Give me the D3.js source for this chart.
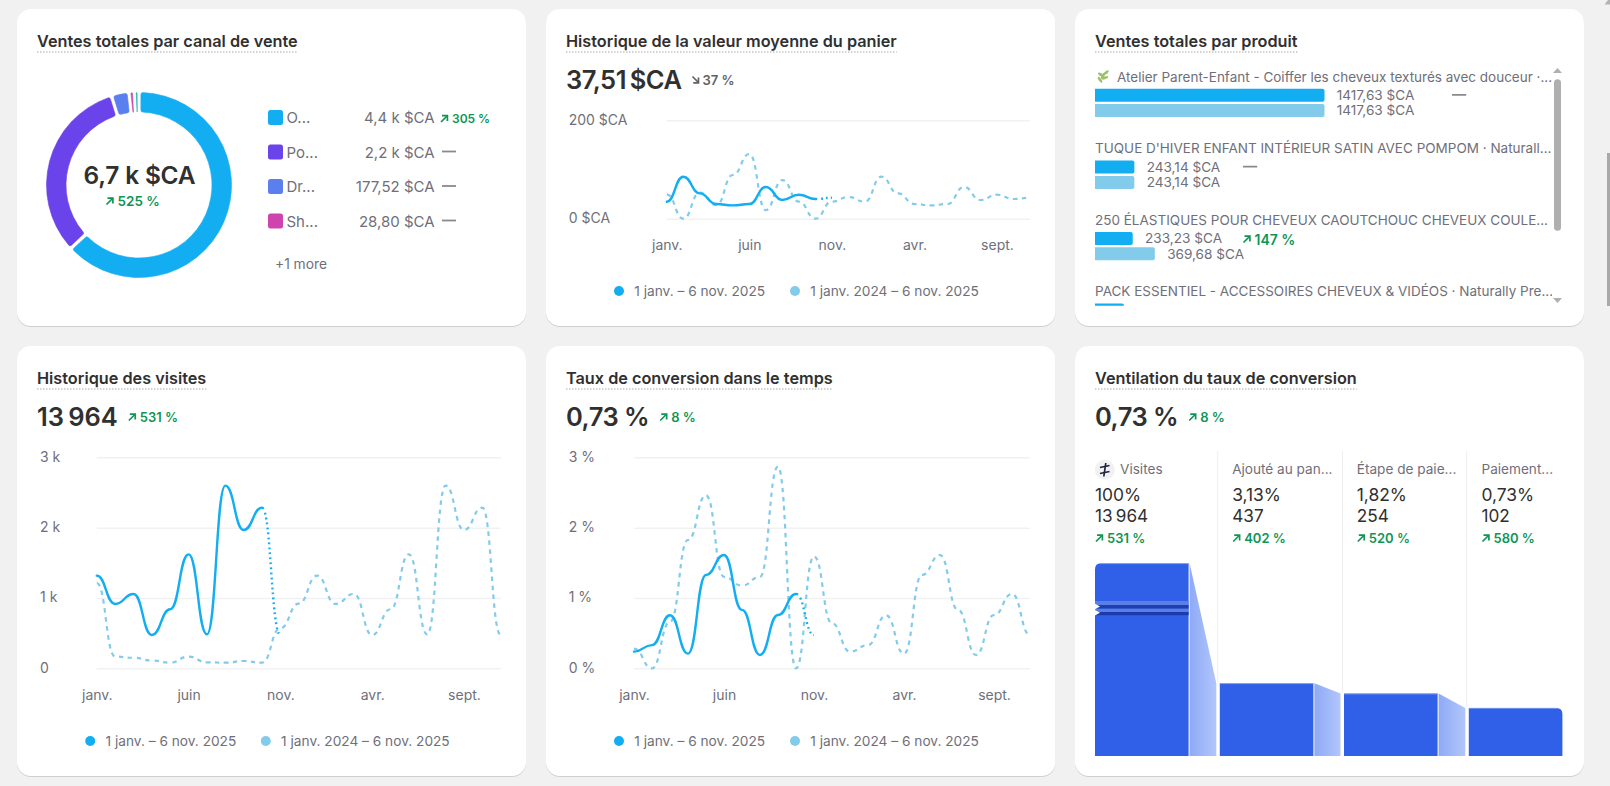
<!DOCTYPE html>
<html lang="fr">
<head>
<meta charset="utf-8">
<title>Tableau de bord des ventes</title>
<script src="https://cdnjs.cloudflare.com/ajax/libs/d3/7.9.0/d3.min.js"></script>
<style>
  html, body { margin: 0; padding: 0; background: #f1f1f1; overflow: hidden; }
  svg { display: block; font-family: Inter, "Noto Sans", sans-serif; }
</style>
</head>
<body>
<svg id="board" width="1610" height="786"></svg>
<script>
// ---- Sales channels
const channelNames = ["O...", "Po...", "Dr...", "Sh...", "Autre"];
const channelValues = [4352, 2200, 177.52, 28.8, 20];
const channelLabels = ["4,4 k $CA", "2,2 k $CA", "177,52 $CA", "28,80 $CA"];
const channelTrends = ["305 %", null, null, null];

// ---- Monthly axis shared by the line charts
const monthTicks = [0, 5, 10, 15, 20];
const monthTickLabels = ["janv.", "juin", "nov.", "avr.", "sept."];
const periodLabels = ["1 janv. – 6 nov. 2025", "1 janv. 2024 – 6 nov. 2025"];

// ---- Average basket value ($CA)
const basketCurrent = [34.6, 85.4, 51.5, 29.8, 27, 29.8, 64.4, 38, 48.8, 40, 42.7];
const basketPrevious = [49.5, 0, 53, 27.8, 88.8, 131.5, 17.6, 78.6, 34.6, 0, 34.6, 44, 34.6, 85.4, 51.5, 29.8, 27, 29.8, 64.4, 38, 48.8, 40, 42.7];
const basketTicks = [0, 200];

// ---- Visits (thousands)
const visitsCurrent = [1.317, 0.915, 1.057, 0.474, 0.84, 1.62, 0.483, 2.597, 1.967, 2.284, 0.474];
const visitsPrevious = [1.21, 0.166, 0.15, 0.11, 0.08, 0.166, 0.085, 0.08, 0.104, 0.08, 0.57, 0.92, 1.317, 0.915, 1.057, 0.474, 0.84, 1.62, 0.483, 2.597, 1.967, 2.284, 0.474];
const visitsTicks = [0, 1, 2, 3];

// ---- Conversion rate (%)
const conversionCurrent = [0.237, 0.33, 0.754, 0.208, 1.327, 1.61, 0.83, 0.19, 0.758, 1.057, 0.474];
const conversionPrevious = [0.28, 0, 0.66, 1.825, 2.46, 1.3, 1.175, 1.3, 2.867, 0, 1.59, 0.64, 0.237, 0.33, 0.754, 0.208, 1.327, 1.61, 0.83, 0.19, 0.758, 1.057, 0.474];
const conversionTicks = [0, 1, 2, 3];

// ---- Products
const productNames = [
  "Atelier Parent-Enfant - Coiffer les cheveux texturés avec douceur ·...",
  "TUQUE D'HIVER ENFANT INTÉRIEUR SATIN AVEC POMPOM · Naturall...",
  "250 ÉLASTIQUES POUR CHEVEUX CAOUTCHOUC CHEVEUX COULE...",
  "PACK ESSENTIEL - ACCESSOIRES CHEVEUX & VIDÉOS · Naturally Pre..."
];
const productCurrent = [1417.63, 243.14, 233.23, 179];
const productPrevious = [1417.63, 243.14, 369.68, null];
const productTrends = [null, null, "147 %", null];

// ---- Conversion funnel
const funnelSteps = ["Visites", "Ajouté au pan...", "Étape de paie...", "Paiement..."];
const funnelRates = ["100%", "3,13%", "1,82%", "0,73%"];
const funnelCounts = [13964, 437, 254, 102];
const funnelTrends = ["531 %", "402 %", "520 %", "580 %"];

const ink = "#303030", muted = "#6f6f7a", green = "#0f9555", flat = "#8a8a8a";
const cyan = "#13adf2", sky = "#82cbeb", funnelBlue = "#3060e8";
const channelColors = [cyan, "#6a43ea", "#5b7fef", "#ce43ad", "#1bb5a8"];

const svg = d3.select("#board");
const defs = svg.append("defs");

const linkGradient = defs.append("linearGradient").attr("id", "funnelLink");
linkGradient.append("stop").attr("offset", "0").attr("stop-color", "#8eaaf6");
linkGradient.append("stop").attr("offset", "1").attr("stop-color", "#b2c6fb");

function text(parent, x, y, str, size, color, opts = {}) {
  return parent.append("text")
    .attr("x", x).attr("y", y)
    .attr("dominant-baseline", "central")
    .attr("text-anchor", opts.anchor || "start")
    .attr("font-size", size)
    .attr("font-weight", opts.weight || 400)
    .attr("fill", color)
    .attr("letter-spacing", opts.spacing || null)
    .text(str);
}

// Small diagonal trend arrow, drawn inside a 9px box.
function arrow(parent, x, y, color, down) {
  const a = parent.append("g").attr("transform", `translate(${x},${y - 4.5})`)
    .attr("fill", "none").attr("stroke", color).attr("stroke-width", 1.7);
  if (down) {
    a.append("path").attr("d", "M1,1 L7,7");
    a.append("path").attr("d", "M7,2 V7.4 H1.8");
  } else {
    a.append("path").attr("d", "M1,8 L7,2");
    a.append("path").attr("d", "M2,1.6 H7.4 V7");
  }
}

function trend(parent, x, y, label, size = 13) {
  arrow(parent, x, y, green);
  text(parent, x + 12, y, label, size, green, { weight: 600 });
}

function card(x, y, w, h, title) {
  const g = svg.append("g");
  g.append("rect").attr("x", x).attr("y", y + 1).attr("width", w).attr("height", h)
    .attr("rx", 14).attr("fill", "#cfcfcf");
  g.append("rect").attr("x", x).attr("y", y).attr("width", w).attr("height", h)
    .attr("rx", 14).attr("fill", "#fff");
  const t = text(g, x + 20, y + 32, title, 16.25, ink, { weight: 600 });
  const tw = t.node().getComputedTextLength();
  g.append("line").attr("x1", x + 20).attr("x2", x + 20 + tw)
    .attr("y1", y + 43).attr("y2", y + 43)
    .attr("stroke", "#a9a9a9").attr("stroke-width", 1)
    .attr("stroke-dasharray", "1.5 1.5");
  return g;
}

function headline(g, x, y, str, spacing = -0.5) {
  return text(g, x, y, str, 25.5, ink, { weight: 600, spacing });
}

// ---- Donut card
(function channels() {
  const g = card(17, 9, 509, 317, "Ventes totales par canal de vente");
  const cx = 139, cy = 185;
  const pie = d3.pie().sort(null).padAngle(0.032).value(d => d);
  const arc = d3.arc().innerRadius(73).outerRadius(92.5).cornerRadius(2);
  g.append("g").attr("transform", `translate(${cx},${cy})`)
    .selectAll("path").data(pie(channelValues)).join("path")
    .attr("d", arc)
    .attr("fill", (d, i) => channelColors[i])
    .attr("stroke", (d, i) => channelColors[i])
    .attr("stroke-width", 0.6);
  text(g, 139.5, 175, "6,7 k $CA", 24.5, ink, { anchor: "middle", weight: 600, spacing: -0.2 });
  trend(g, 105.5, 201, "525 %", 13.5);

  const rowY = d3.scalePoint().domain(d3.range(4)).range([117.5, 221]);
  channelLabels.forEach((label, i) => {
    const y = rowY(i);
    g.append("rect").attr("x", 268).attr("y", y - 7.5).attr("width", 15).attr("height", 15)
      .attr("rx", 2.5).attr("fill", channelColors[i]);
    text(g, 286.5, y, channelNames[i], 15, muted);
    text(g, 434.6, y, label, 15, muted, { anchor: "end" });
    if (channelTrends[i]) trend(g, 440, y + 1, channelTrends[i], 12);
    else g.append("line").attr("x1", 442).attr("x2", 456).attr("y1", y - 0.5).attr("y2", y - 0.5)
      .attr("stroke", flat).attr("stroke-width", 1.8);
  });
  text(g, 275, 264, "+1 more", 13.8, muted);
})();

// ---- Line chart cards
function lineChart(o) {
  const g = card(o.x, o.y, o.w, o.h, o.title);
  const headY = o.y + o.headDy;
  const total = headline(g, o.x + 20, headY, o.headline, o.headSpacing);
  const tw = total.node().getComputedTextLength();
  if (o.down) {
    arrow(g, o.x + 20 + tw + 10, headY + 1, "#616161", true);
    text(g, o.x + 20 + tw + 21, headY + 1, o.delta, 13, "#616161", { weight: 600 });
  } else {
    trend(g, o.x + 20 + tw + 10, headY + 1, o.delta, 13);
  }

  const xScale = d3.scaleLinear().domain([0, 22]).range(o.xRange);
  const yScale = d3.scaleLinear().domain(d3.extent(o.ticks)).range(o.yRange);

  const grid = d3.axisLeft(yScale).tickValues(o.ticks)
    .tickSize(-(o.xRange[1] - o.xRange[0])).tickFormat("");
  const gy = g.append("g").attr("transform", `translate(${o.xRange[0]},0)`).call(grid);
  gy.select(".domain").remove();
  gy.selectAll("line").attr("stroke", "#f1f1f1").attr("stroke-width", 1.5);
  gy.selectAll("text").remove();
  o.ticks.forEach(t => {
    text(g, o.labelX, yScale(t) - 1, o.tickFormat(t), 14, muted);
  });

  const xAxis = d3.axisBottom(xScale).tickValues(monthTicks).tickSize(0)
    .tickFormat((d, i) => monthTickLabels[i]);
  const gx = g.append("g").attr("transform", `translate(0,${o.xLabelY})`).call(xAxis);
  gx.select(".domain").remove();
  gx.attr("font-family", null).attr("font-size", null);
  gx.selectAll("text").attr("y", 0).attr("dy", 0)
    .attr("dominant-baseline", "central")
    .attr("font-size", 14).attr("fill", muted);

  const line = d3.line().x((d, i) => xScale(i)).y(d => yScale(d)).curve(d3.curveBumpX);
  g.append("path").attr("d", line(o.previous)).attr("fill", "none")
    .attr("stroke", sky).attr("stroke-width", 2.2)
    .attr("stroke-dasharray", "4.5 4.5").attr("stroke-linecap", "butt");

  // The last month is still running, so its segment is dotted.
  const full = g.append("path").attr("d", line(o.current)).attr("fill", "none")
    .attr("stroke", cyan).attr("stroke-width", 2.4)
    .attr("stroke-linecap", "round");
  const node = full.node();
  const totalLen = node.getTotalLength();
  const splitX = xScale(o.current.length - 2);
  let lo = 0, hi = totalLen;
  while (hi - lo > 0.2) {
    const m = (lo + hi) / 2;
    if (node.getPointAtLength(m).x < splitX) lo = m; else hi = m;
  }
  full.attr("stroke-dasharray", `${lo} ${totalLen}`);
  const dots = d3.range(Math.ceil((totalLen - lo) / 5)).map(() => "1.8 3.2").join(" ");
  g.append("path").attr("d", line(o.current)).attr("fill", "none")
    .attr("stroke", cyan).attr("stroke-width", 2.4)
    .attr("stroke-dasharray", `0 ${lo + 5} ${dots}`)
    .attr("stroke-linecap", "butt");

  o.legendX.forEach((lx, i) => {
    g.append("circle").attr("cx", lx).attr("cy", o.legendY).attr("r", 5)
      .attr("fill", i ? sky : cyan);
    text(g, lx + 15.3, o.legendY, periodLabels[i], 13.7, muted);
  });
}

lineChart({
  x: 546, y: 9, w: 509.5, h: 317, headDy: 70,
  title: "Historique de la valeur moyenne du panier",
  headline: "37,51\u202f$CA", delta: "37 %", down: true,
  xRange: [666.8, 1030], yRange: [218.7, 120.3], labelX: 568.7, xLabelY: 244,
  ticks: basketTicks, tickFormat: d => `${d} $CA`,
  current: basketCurrent, previous: basketPrevious,
  legendX: [619, 795], legendY: 291
});
lineChart({
  x: 17, y: 346, w: 509, h: 430, headDy: 70,
  title: "Historique des visites",
  headline: "13\u202f964", delta: "531 %", headSpacing: -1,
  xRange: [96.8, 500.7], yRange: [668.3, 457.3], labelX: 40, xLabelY: 694,
  ticks: visitsTicks, tickFormat: d => d ? `${d} k` : "0",
  current: visitsCurrent, previous: visitsPrevious,
  legendX: [90.2, 265.8], legendY: 741
});
lineChart({
  x: 546, y: 346, w: 509.5, h: 430, headDy: 70,
  title: "Taux de conversion dans le temps",
  headline: "0,73 %", delta: "8 %",
  xRange: [634, 1030], yRange: [668.3, 457.3], labelX: 568.7, xLabelY: 694,
  ticks: conversionTicks, tickFormat: d => `${d} %`,
  current: conversionCurrent, previous: conversionPrevious,
  legendX: [619, 795], legendY: 741
});

// ---- Product bars
(function products() {
  const g = card(1075, 9, 509, 317, "Ventes totales par produit");
  defs.append("clipPath").attr("id", "productClip")
    .append("rect").attr("x", 1090).attr("y", 62).attr("width", 462).attr("height", 243.7);
  const list = g.append("g").attr("clip-path", "url(#productClip)");
  const w = d3.scaleLinear().domain([0, 1417.63]).range([0, 229.5]);
  const top = d3.scaleLinear().domain([0, 1]).range([76.8, 148.2]);
  const fr = d3.format(".2f");
  const money = v => fr(v).replace(".", ",") + " $CA";

  productNames.forEach((name, i) => {
    const y = top(i);
    const cur = productCurrent[i], prev = productPrevious[i];
    if (i === 0) {
      // sprig icon in front of the workshop listing
      const leaf = list.append("g").attr("transform", `translate(1103,${y})`)
        .attr("fill", "#9dc26a");
      [[-3, 3, -35], [0, -1, 30], [3, -4, 50], [-2, -2, -60], [2, 1, 70]].forEach(p => {
        leaf.append("ellipse").attr("cx", p[0]).attr("cy", p[1]).attr("rx", 1.4).attr("ry", 3.4)
          .attr("transform", `rotate(${p[2]} ${p[0]} ${p[1]})`);
      });
      text(list, 1117, y, name, 13.5, muted);
    } else {
      text(list, 1095, y, name, 13.5, muted);
    }
    const by = y + 12 + (i ? 0.4 : 0);
    [[cur, cyan, by], [prev, sky, by + 15.3]].forEach(r => {
      if (r[0] == null) return;
      const bw = w(r[0]);
      list.append("path")
        .attr("d", `M1095,${r[2]} h${bw - 2} q2,0 2,2 v9 q0,2 -2,2 h${-(bw - 2)} z`)
        .attr("fill", r[1]);
      if (i < 3) text(list, 1095 + bw + 12.3, r[2] + 6.2, money(r[0]), 13.6, muted);
    });
    if (i < 3) {
      const column = i === 0 ? 1452 : 1243;
      if (productTrends[i]) {
        trend(list, column - 0.5, by + 7, productTrends[i], 14);
      } else {
        list.append("line").attr("x1", column).attr("x2", column + 14.2)
          .attr("y1", by + 6).attr("y2", by + 6)
          .attr("stroke", flat).attr("stroke-width", 1.8);
      }
    }
  });

  // list scrollbar
  const bar = g.append("g").attr("fill", "#afafaf");
  bar.append("path").attr("d", "M1553,73 L1557.5,68 L1562,73 Z");
  bar.append("rect").attr("x", 1554).attr("y", 79.3).attr("width", 7).attr("height", 151.4).attr("rx", 3.5);
  bar.append("path").attr("d", "M1553,298 L1557.5,303 L1562,298 Z");
})();

// ---- Funnel
(function funnel() {
  const g = card(1075, 346, 509, 430, "Ventilation du taux de conversion");
  const head = headline(g, 1095, 416, "0,73 %");
  trend(g, 1095 + head.node().getComputedTextLength() + 10, 417, "8 %", 13);

  const base = 756, colW = 93.6;
  const textX = [1095, 1232.2, 1356.8, 1481.5];
  const barX = [1095, 1219.8, 1344, 1468.8];
  const height = d3.scalePow().exponent(0.25).domain([102, 437]).range([48, 72.7]);
  const cappedHeight = 192.7;   // the first column runs past the axis break
  const barH = v => v > 437 ? cappedHeight : height(v);

  // column separators
  [1217.7, 1342.4, 1466.7].forEach((x, i) => {
    g.append("line").attr("x1", x).attr("x2", x)
      .attr("y1", 451).attr("y2", base - barH(funnelCounts[i + 1]) - 1)
      .attr("stroke", "#eeeeee").attr("stroke-width", 1);
  });

  funnelSteps.forEach((step, i) => {
    const tx = textX[i];
    if (i === 0) {
      g.append("circle").attr("cx", 1104.8).attr("cy", 469.7).attr("r", 10).attr("fill", "#f1f1f3");
      const ic = g.append("g").attr("stroke", "#1c2440").attr("stroke-width", 1.7).attr("fill", "none");
      ic.append("path").attr("d", "M1105.8,463 L1103.8,476.5");
      ic.append("path").attr("d", "M1100,467.5 L1109.5,465.5");
      ic.append("path").attr("d", "M1100,473.5 L1109.5,471.5");
      text(g, 1120, 469.3, step, 13.6, muted);
    } else {
      text(g, tx, 469.3, step, 13.6, muted);
    }
    text(g, tx, 494.3, funnelRates[i], 17.4, ink);
    text(g, tx, 515.2, funnelCounts[i] === 13964 ? "13\u202f964" : String(funnelCounts[i]), 17.2, ink);
    trend(g, tx, 538, funnelTrends[i], 13);
  });

  funnelCounts.forEach((v, i) => {
    const h = barH(v), x = barX[i], y = base - h;
    if (i < 3) {
      const nextH = barH(funnelCounts[i + 1]);
      const lx = x + colW + 1, rx = barX[i + 1] - 3.5;
      g.append("path")
        .attr("d", `M${lx},${y} L${rx},${base - nextH} V${base} H${lx} Z`)
        .attr("fill", "url(#funnelLink)");
    }
    const r = 6;
    let d;
    if (i === 0) d = `M${x},${base} V${y + r} Q${x},${y} ${x + r},${y} H${x + colW} V${base} Z`;
    else if (i === 3) d = `M${x},${base} V${y} H${x + colW - r} Q${x + colW},${y} ${x + colW},${y + r} V${base} Z`;
    else d = `M${x},${base} V${y} H${x + colW} V${base} Z`;
    g.append("path").attr("d", d).attr("fill", funnelBlue);
    g.append("line").attr("x1", x + (i === 0 ? 5 : 0)).attr("x2", x + colW - (i === 3 ? 5 : 0))
      .attr("y1", y + 0.3).attr("y2", y + 0.3).attr("stroke", "#8eaaf6").attr("stroke-width", 0.8);
  });

  // axis-break bands across the tallest column
  [[601, 4, "#5b7fe9"], [605, 3.7, "#1f3fae"], [608.7, 3.3, "#5b7fe9"], [612, 3.2, "#1c3aa9"]].forEach(b => {
    g.append("rect").attr("x", 1095).attr("y", b[0]).attr("width", colW).attr("height", b[1]).attr("fill", b[2]);
  });
  [606.5, 612.7].forEach(y => {
    g.append("path").attr("d", `M1094.5,${y - 3} L1100,${y} L1094.5,${y + 3} Z`).attr("fill", "#fff");
  });
})();

// ---- Page scrollbar at the window edge
svg.append("path").attr("d", "M1604.5,4.5 L1608,0 L1610,0 L1610,4.5 Z").attr("fill", "#b3b3b3");
svg.append("rect").attr("x", 1607).attr("y", 153).attr("width", 3).attr("height", 153).attr("fill", "#a9a9a9");
</script>
</body>
</html>
